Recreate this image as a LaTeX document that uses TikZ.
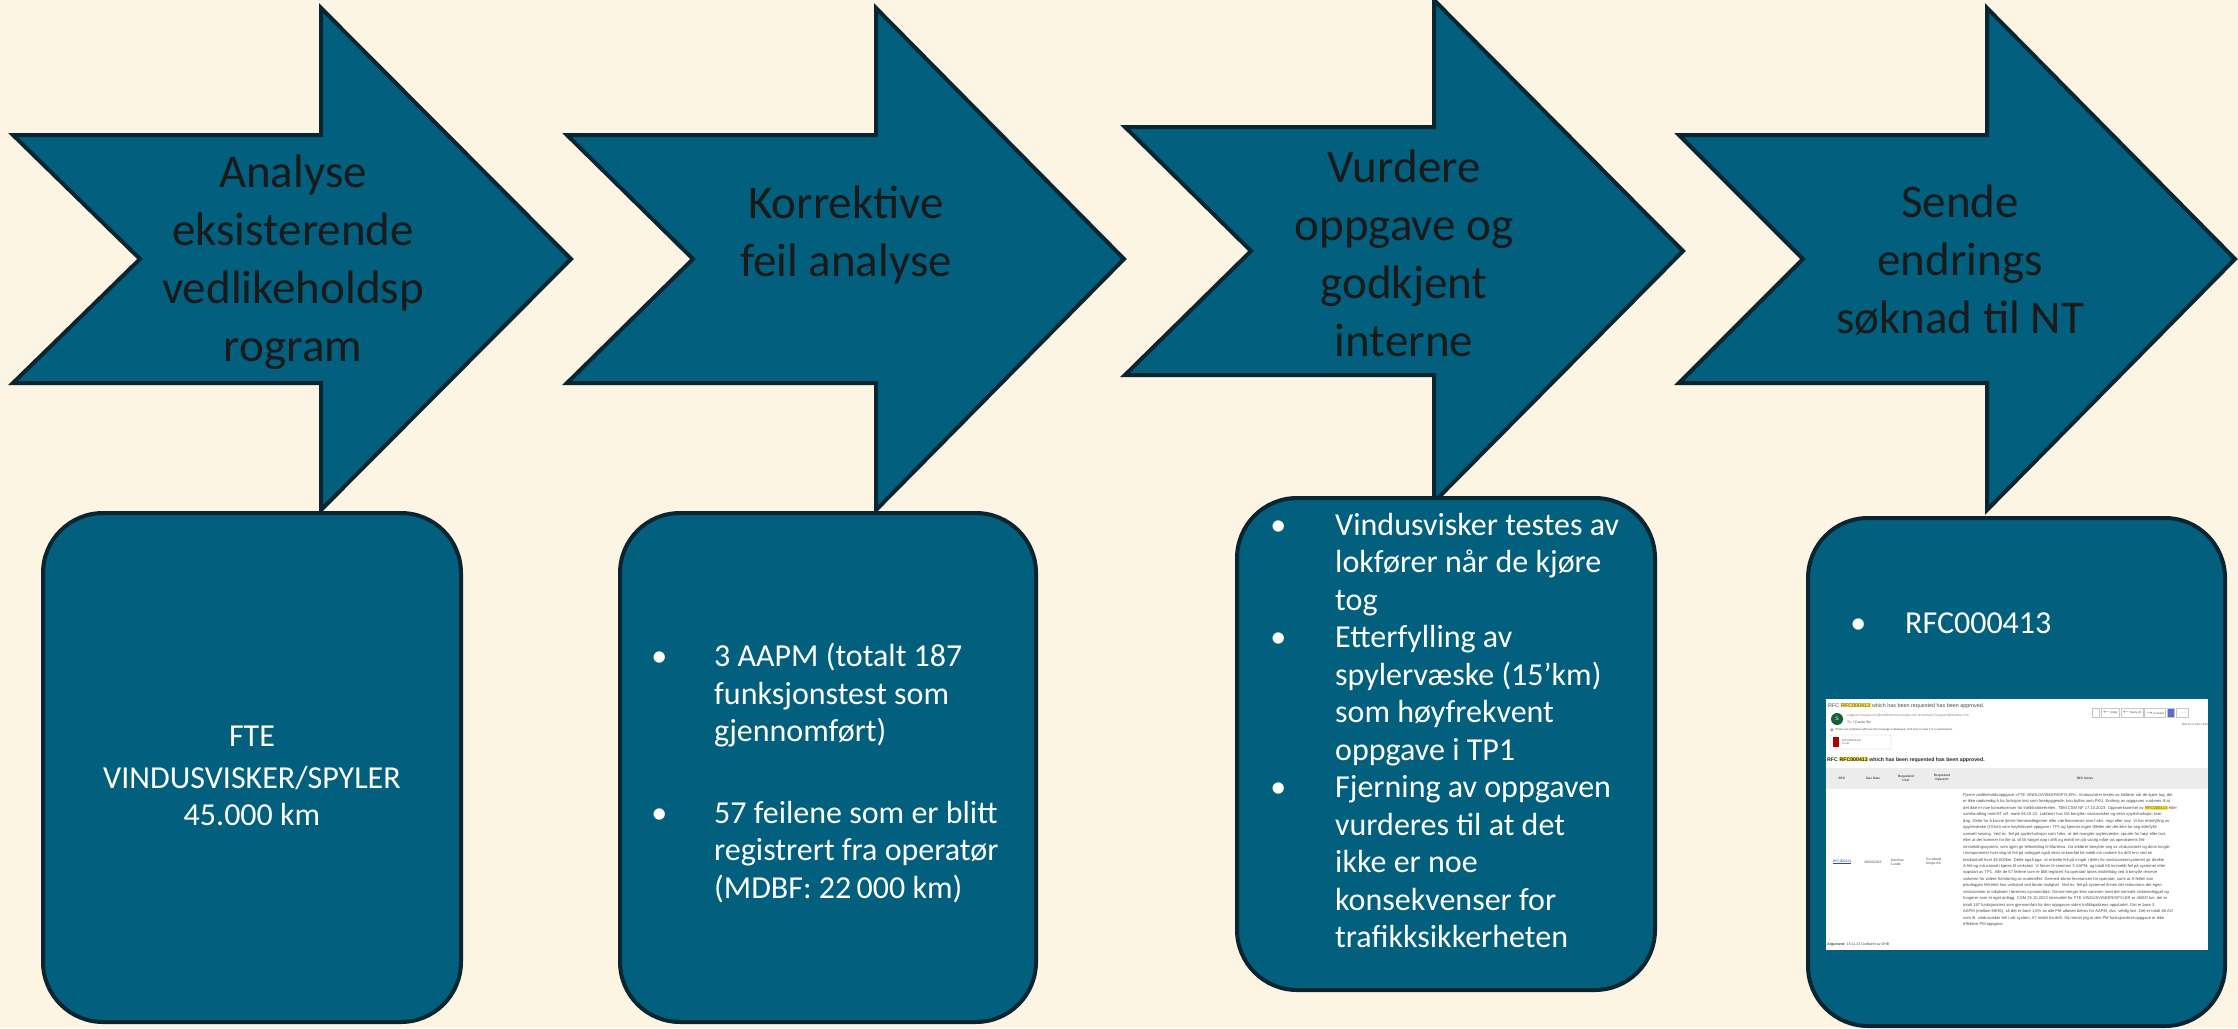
\documentclass[tikz,border=0pt]{standalone}
\usepackage{fontspec}
\setmainfont{Carlito}
\newfontfamily\shotfont{Liberation Sans}
\usetikzlibrary{calc,positioning}
\definecolor{PPcream}{RGB}{253,245,228}
\definecolor{PPteal}{RGB}{2,95,125}
\definecolor{PPnavy}{RGB}{9,37,50}
\definecolor{PPink}{RGB}{26,26,26}
\definecolor{SHgrey}{RGB}{75,75,75}
\definecolor{SHhl}{RGB}{255,232,60}
\definecolor{SHgreen}{RGB}{20,96,58}
\definecolor{SHlink}{RGB}{45,70,190}
\definecolor{SHband}{RGB}{236,236,236}
\newcommand{\chev}[9]{\filldraw[chev] (#1,#5)--(#3,#5)--(#3,#7)--(#4,#9)--(#3,#8)--(#3,#6)--(#1,#6)--(#2,#9)--cycle;}
\newcommand{\bul}[1]{\llap{\textbullet\hspace{#1pt}}}
\newcommand{\hlt}[1]{{\setlength{\fboxsep}{0.3pt}\colorbox{SHhl}{#1}}}
\begin{document}
\begin{tikzpicture}[x=1pt,y=-1pt,
  chev/.style={fill=PPteal,draw=PPnavy,line width=4pt,line join=miter},
  card/.style={fill=PPteal,draw=PPnavy,line width=4pt,rounded corners=60pt},
  ttl/.style={font=\fontsize{47}{58}\selectfont,text=PPink,align=center,inner sep=0pt},
  body/.style={font=\fontsize{32}{37.5}\selectfont,text=white,align=left,inner sep=0pt},
  shottxt/.style={inner sep=0pt,text=SHgrey,align=left,font=\shotfont\fontsize{3.4}{4.2}\selectfont},
  btn/.style={shottxt,draw=gray!45,line width=0.4pt,minimum height=9pt,inner xsep=1.5pt,font=\shotfont\fontsize{2.8}{3}\selectfont}]
\path[use as bounding box,fill=PPcream] (0,0) rectangle (2238,1028);
\chev{13}{140}{321}{571}{135}{383}{8}{510}{259}
\chev{567}{693}{876}{1124}{135}{383}{8}{510}{259}
\chev{1125}{1251}{1434}{1683}{127}{375}{0}{502}{251}
\chev{1679}{1803}{1987}{2235}{135}{383}{8}{510}{259}
\node[ttl] (t1) at (293,262) {Analyse\\eksisterende\\vedlikeholdsp\\rogram};
\node[ttl] (t2) at (846,235) {Korrektive\\feil analyse};
\node[ttl] (t3) at (1404,253) {Vurdere\\oppgave og\\godkjent\\interne};
\node[ttl] (t4) at (1960,260) {Sende\\endrings\\søknad til NT};
\draw[card] (43,513) rectangle (461,1022);
\draw[card] (620,513) rectangle (1036,1022);
\draw[card] (1237,498) rectangle (1655,990);
\draw[card] (1808,518) rectangle (2225,1026);
\node[body,align=center] (c1) at (252,776) {FTE\\[4pt]VINDUSVISKER/SPYLER\\45.000 km};
\node[body,anchor=north west] (c2) at (714,643) {\bul{47}3 AAPM (totalt 187\\funksjonstest som\\gjennomført)\\[44pt]\bul{47}57 feilene som er blitt\\registrert fra operatør\\(MDBF: 22\,000 km)};
\node[body,anchor=north west] (c3) at (1335,513) {\bul{49}Vindusvisker testes av\\lokfører når de kjøre\\tog\\\bul{49}Etterfylling av\\spylervæske (15’km)\\som høyfrekvent\\oppgave i TP1\\\bul{49}Fjerning av oppgaven\\vurderes til at det\\ikke er noe\\konsekvenser for\\trafikksikkerheten};
\node[body,anchor=base west] (c4) at (1905,633) {\bul{39}RFC000413};
\fill[white] (1826,699) rectangle (2208,950);
\node[shottxt,anchor=base west,font=\shotfont\fontsize{5.4}{6}\selectfont] (s1) at (1828,707) {RFC \hlt{RFC000413} which has been requested has been approved.};
\node[circle,fill=SHgreen,minimum size=12pt,inner sep=0pt,text=white,font=\shotfont\fontsize{5}{5}\selectfont] (av) at (1837,719) {S};
\node[shottxt,anchor=base west,text=gray] (s2) at (1847,716) {support-nexala.com@notifications.nexala.com on behalf of support@nexala.com};
\node[shottxt,anchor=base west] (s3) at (1847,723) {To: \textcolor{SHgreen}{\textbullet} Carole Ski};
\node[circle,draw=SHlink,line width=0.3pt,inner sep=0.4pt,text=SHlink,font=\shotfont\fontsize{2.4}{2.4}\selectfont] (s4i) at (1832,730) {i};
\node[shottxt,anchor=west,font=\shotfont\fontsize{2.8}{3}\selectfont] (s4) at (1835,730) {If there are problems with how this message is displayed, click here to view it in a web browser.};
\draw[gray!45,line width=0.4pt,rounded corners=1pt] (1830,735) rectangle (1891,749);
\fill[red!70!black] (1833,737) rectangle (1839,747);
\node[shottxt,anchor=west,font=\shotfont\fontsize{2.6}{3.4}\selectfont] (att) at (1842,742) {RFC000413.pdf\\11 KB};
\node[btn,minimum width=7pt] (b0) at (2096,713) {};
\node[btn,right=1.5pt of b0] (b1) {\textcolor{SHlink}{$\leftarrow$} Reply};
\node[btn,right=1.5pt of b1] (b2) {\textcolor{SHlink}{$\leftarrow$} Reply All};
\node[btn,right=1.5pt of b2] (b3) {\textcolor{SHlink}{$\rightarrow$} Forward};
\node[btn,right=1.5pt of b3,fill=SHlink!80,minimum width=7pt] (b4) {};
\node[btn,right=1.5pt of b4] (b5) {$\cdots$};
\node[shottxt,anchor=base east,font=\shotfont\fontsize{2.6}{3}\selectfont] (dt) at (2208,725) {Wed 15.11.2023 13:08};
\node[shottxt,anchor=base west,text=black!85,font=\shotfont\bfseries\fontsize{5.2}{6}\selectfont] (s6) at (1827,761) {RFC \hlt{RFC000413} which has been requested has been approved.};
\fill[SHband] (1826,768) rectangle (2208,789);
\node[shottxt,align=center,font=\shotfont\bfseries\fontsize{3.2}{3.9}\selectfont] (h1) at (1842,778) {RFC};
\node[shottxt,align=center,font=\shotfont\bfseries\fontsize{3.2}{3.9}\selectfont] (h2) at (1873,778) {Due Date};
\node[shottxt,align=center,font=\shotfont\bfseries\fontsize{3.2}{3.9}\selectfont] (h3) at (1906,778) {Requested\\User};
\node[shottxt,align=center,font=\shotfont\bfseries\fontsize{3.2}{3.9}\selectfont] (h4) at (1942,778) {Requested\\Operator};
\node[shottxt,align=center,font=\shotfont\bfseries\fontsize{3.2}{3.9}\selectfont] (h5) at (2085,778) {RFC Notes};
\node[shottxt,text=SHlink] (r1) at (1842,862) {\underline{RFC000413}};
\node[shottxt] (r2) at (1873,862) {08/09/2023};
\node[shottxt,anchor=west] (r3) at (1891,862) {Karoline\\Lunde};
\node[shottxt,anchor=west] (r4) at (1926,862) {Go-ahead\\Norge AS};
\node[shottxt,anchor=north west,font=\shotfont\fontsize{4.1}{6.45}\selectfont] (notes) at (1963,793) {Fjerne vedlikeholdsoppgave «FTE VINDUSVISKER/SPYLER». Vindusvisker testes av lokfører når de kjøre tog, det\\
er ikke nødvendig å ha funksjon test som forebyggende, kan byttes som PKU. Endring av oppgaven vurderes til at\\
det ikke er noe konsekvenser for trafikksikkerheten. TBM CSM NF 17.10.2023: Oppmerksomhet av \hlt{RFC000413} etter\\
samhandling med NT ref. møte 06.10.23. Lokfører hos GA benytter vindusvisker og dens spylerfunksjon hver\\
dag. Dette for å kunne fjerne fremmedlegemer eller værfenomener som f.eks. regn eller snø. Vi har etterfylling av\\
spylervæske (15’km) som høyfrekvent oppgave i TP1 og kjenner ingen tilfeller der det ikke lar seg etterfylle\\
uansett sesong. Ved ev. feil på spylerfunksjon som f.eks. at det mangler spylervæske, spruter for høyt eller lavt,\\
eller at det kommer for lite ut, vil bli fanget opp i drift og meldt inn på vanlig måte via operatørens feil-\\
innmeldingssystem, som igjen gir feilmelding til Mantena. Da lokfører benytter seg av vindusvisker og dens inngår-\\
i komponenter hver dag vil feil på anlegget også dens virkemåte bli meldt inn raskere fra drift enn ved en\\
testkontroll hver 45.000km. Dette også pga. at enkelte feil på inngår i deler for vindusviskersystemet gir direkte\\
A-feil og må uansett kjøres til verksted. Vi finner til sammen 3 AAPM, og totalt 66 innmeldt feil på systemet etter\\
oppstart av TP1. Alle de 57 feilene som er blitt registert fra operatør løses midlertidig ved å benytte reserve\\
viskeren for videre fremføring av materiellet. Dermed sikres leveransen for operatør, samt at A-feilen kan\\
planlegges feilrettet hos verksted ved første mulighet. Ved ev. feil på systemet finnes det redundans der egen\\
vindusvisker er lokalisert i førerens synsområde. Denne henger ikke sammen med det normale viskeranlegget og\\
fungerer som et eget anlegg. CSM 25.10.2023 Intervallet for FTE VINDUSVISKER/SPYLER er 45000 km, det er\\
totalt 187 funksjonstest som gjennomført for den oppgaven siden trafikkpakkens oppstartet. Det er bare 3\\
AAPM (mellom MIHS), så det er bare 1,6\% av alle PM utløses behov for AAPM, dvs. veldig lavt. Det er totalt 66 AO\\
som ift. vindusvisker feil i vår system, 57 meldt fra drift. Så mener jeg at den PM-funksjonstest-oppgave er ikke\\
effektive PM oppgave.};
\node[shottxt,anchor=base west,font=\shotfont\fontsize{3.6}{4}\selectfont] (s9) at (1827,945) {\textbf{Argument:} 15.11.23 Godkjent av DHB};
\end{tikzpicture}
\end{document}
